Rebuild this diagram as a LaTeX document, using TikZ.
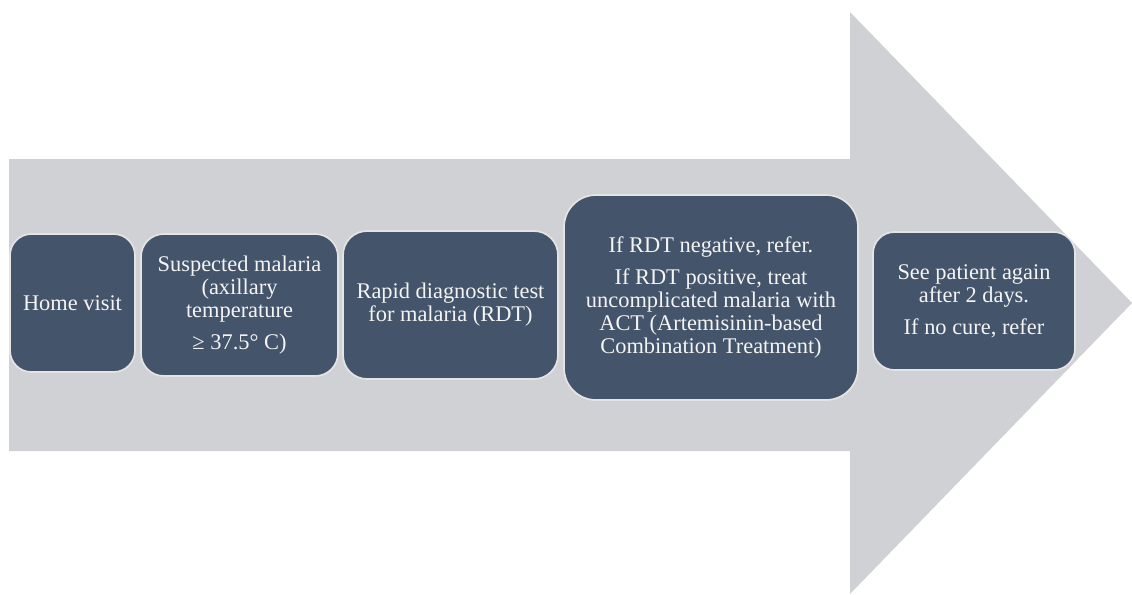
\documentclass[tikz,border=0pt]{standalone}
\usepackage{fontspec}
\setmainfont{Liberation Serif}
\definecolor{arrowgray}{HTML}{D0D1D4}
\definecolor{boxblue}{HTML}{44546A}
\definecolor{boxline}{HTML}{E4E4E6}
\definecolor{txt}{HTML}{F4F4F4}
\begin{document}
\begin{tikzpicture}[x=0.75pt,y=-0.75pt,
  stepbox/.style={draw=boxline, line width=1.3pt, fill=boxblue, text=txt,
    align=center, inner sep=0pt,
    font=\fontsize{16.8}{17.2}\selectfont}]
\useasboundingbox (0,0) rectangle (1132,594);
\fill[arrowgray] (9,159) -- (850,159) -- (850,12) -- (1132,303) -- (850,594) -- (850,451) -- (9,451) -- cycle;
\node[stepbox, minimum width=93.75pt, minimum height=103.5pt, rounded corners=16pt] (b1) at (72.5,303) {Home visit};
\node[stepbox, minimum width=147.75pt, minimum height=106.5pt, rounded corners=17pt] (b2) at (239.5,305)
  {Suspected malaria\\(axillary\\temperature\\[7pt]≥ 37.5° C)};
\node[stepbox, minimum width=161.25pt, minimum height=111pt, rounded corners=18pt] (b3) at (450.5,305)
  {Rapid diagnostic test\\for malaria (RDT)};
\node[stepbox, minimum width=220.5pt, minimum height=153.75pt, rounded corners=24pt] (b4) at (711,297.5)
  {If RDT negative, refer.\\[7pt]If RDT positive, treat\\uncomplicated malaria with\\ACT (Artemisinin-based\\Combination Treatment)};
\node[stepbox, minimum width=151.5pt, minimum height=103.5pt, rounded corners=16pt] (b5) at (974,301)
  {See patient again\\after 2 days.\\[7pt]If no cure, refer};
\end{tikzpicture}
\end{document}
